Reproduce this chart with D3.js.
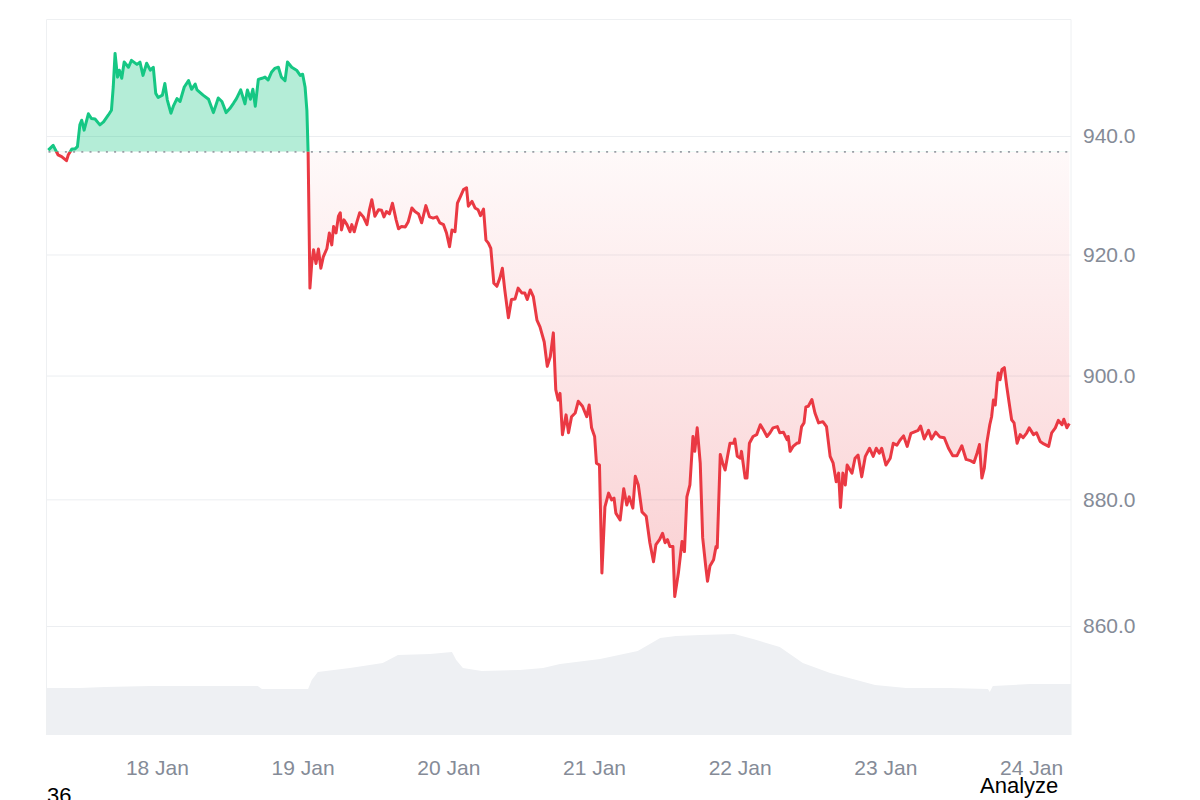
<!DOCTYPE html>
<html>
<head>
<meta charset="utf-8">
<script src="https://cdn.jsdelivr.net/npm/d3@7"></script>
<style>
  body { margin: 0; background: #fff; }
  svg text { font-family: "Liberation Sans", Arial, sans-serif; }
</style>
</head>
<body>
<div id="chart"></div>
<script>
// price readings: [hours since 17 Jan 00:00 UTC, price]
const pricePoints = [
  [6.1,937.6],[6.9,938.4],[7.7,936.8],[8.3,936.5],[9.1,935.8],[9.4,936.8],[10.0,937.8],[10.5,937.8],[10.9,938.2],[11.3,941.9],
  [11.6,942.7],[12.0,941.0],[12.7,943.8],[13.2,943.0],[13.8,942.9],[14.6,941.9],[15.2,942.4],[16.0,943.6],[16.5,944.4],[16.8,948.4],
  [17.1,954.2],[17.5,950.1],[17.8,951.3],[18.2,949.9],[18.6,952.7],[19.3,951.8],[19.8,953.0],[20.7,952.3],[21.2,952.7],[21.7,950.4],
  [22.3,952.5],[22.9,951.3],[23.4,951.8],[23.8,947.3],[24.2,946.6],[24.9,947.0],[25.3,949.0],[25.7,946.2],[26.3,943.9],[26.7,945.1],
  [27.3,946.4],[27.8,945.9],[28.5,948.4],[29.2,949.5],[29.7,948.0],[30.3,948.9],[30.6,947.9],[31.6,947.0],[32.5,946.3],[33.3,944.0],
  [34.1,946.5],[34.7,945.9],[35.4,944.0],[36.0,944.7],[36.6,945.6],[37.1,946.4],[37.8,947.9],[38.5,945.5],[38.9,947.9],[39.4,946.3],
  [39.8,948.0],[40.2,945.1],[40.7,949.7],[41.3,949.9],[41.8,950.1],[42.3,949.6],[42.9,951.0],[43.4,951.6],[44.0,951.8],[44.5,950.1],
  [45.1,949.5],[45.5,952.7],[46.2,951.8],[47.0,951.3],[47.6,950.4],[48.0,950.6],[48.4,948.4],[48.7,944.4],[48.9,937.3],[49.2,914.4],
  [49.5,918.5],[49.8,920.8],[50.2,918.5],[50.6,920.9],[51.0,917.7],[51.4,919.6],[52.0,921.0],[52.4,923.6],[52.8,921.6],[53.1,924.7],
  [53.5,923.6],[53.9,926.4],[54.2,927.0],[54.4,924.1],[54.8,925.8],[55.3,925.0],[55.8,923.8],[56.1,925.0],[56.5,923.8],[56.9,925.3],
  [57.4,927.0],[58.0,926.3],[58.6,925.0],[59.0,927.5],[59.4,929.2],[59.9,926.4],[60.5,927.5],[61.0,927.4],[61.4,926.3],[61.8,927.2],
  [62.3,926.8],[62.8,928.6],[63.4,925.8],[63.8,924.3],[64.3,924.7],[64.9,924.6],[65.4,925.5],[66.0,927.8],[66.5,927.2],[67.1,926.8],
  [67.6,925.3],[68.3,928.2],[68.9,926.3],[69.5,926.1],[70.1,926.3],[70.6,925.3],[71.2,925.0],[71.7,923.6],[72.2,921.3],[72.6,924.1],
  [73.1,923.8],[73.5,928.6],[73.9,929.5],[74.5,930.9],[75.0,931.2],[75.3,928.1],[75.9,928.9],[76.4,927.8],[76.9,927.5],[77.3,926.5],
  [77.8,927.6],[78.2,922.4],[78.6,921.9],[79.0,921.0],[79.5,915.2],[80.0,914.7],[80.5,916.1],[80.9,917.7],[81.3,914.1],[81.9,909.5],
  [82.4,912.5],[83.0,912.6],[83.5,914.4],[84.1,913.6],[84.6,913.6],[85.0,912.5],[85.5,914.1],[86.0,913.0],[86.6,909.1],[87.1,908.0],
  [87.8,905.5],[88.3,901.5],[88.8,903.1],[89.3,907.0],[89.7,897.7],[90.1,896.0],[90.4,897.1],[90.8,890.4],[91.4,893.6],[91.8,890.7],
  [92.3,893.3],[92.9,893.9],[93.4,895.8],[94.1,895.0],[94.8,893.3],[95.2,895.2],[95.6,891.5],[96.1,890.1],[96.4,885.8],[96.9,885.5],
  [97.3,868.3],[97.8,878.8],[98.4,881.0],[98.9,879.9],[99.3,880.2],[99.6,877.8],[100.3,876.7],[100.9,881.7],[101.4,879.1],[101.8,880.4],
  [102.4,878.6],[102.8,883.7],[103.3,882.3],[103.9,878.0],[104.6,877.3],[105.2,873.1],[105.8,870.1],[106.2,872.8],[106.8,873.6],[107.3,874.6],
  [107.7,873.1],[108.1,873.6],[108.5,872.5],[109.0,872.5],[109.3,864.6],[109.9,868.3],[110.5,873.3],[110.9,871.7],[111.3,880.4],[111.8,882.3],
  [112.3,890.1],[112.6,887.7],[113.0,891.5],[113.5,885.8],[113.9,873.9],[114.4,869.4],[114.7,867.0],[115.1,869.4],[115.7,870.4],[116.1,872.5],
  [116.3,872.3],[116.8,887.2],[117.2,885.8],[117.6,884.7],[118.0,886.9],[118.4,889.0],[119.0,889.0],[119.2,889.7],[119.6,886.9],[120.1,886.6],
  [120.3,887.7],[120.9,883.4],[121.2,883.4],[121.6,889.0],[122.2,890.1],[122.8,890.4],[123.4,892.0],[123.9,891.2],[124.5,890.1],[125.0,890.7],
  [125.5,891.5],[126.2,891.7],[126.6,890.7],[127.2,890.8],[127.8,889.6],[128.0,890.1],[128.3,887.7],[128.8,888.5],[129.4,889.0],[129.8,889.1],
  [130.2,891.7],[130.6,892.3],[130.9,894.9],[131.3,895.0],[131.9,896.1],[132.4,893.9],[133.0,892.3],[133.7,892.5],[134.3,891.7],[134.9,886.9],
  [135.4,885.8],[135.9,882.8],[136.3,884.2],[136.6,878.7],[137.0,884.2],[137.4,882.3],[137.7,885.5],[138.5,884.2],[139.0,886.6],[139.5,887.1],
  [140.1,883.6],[140.7,886.9],[141.4,888.2],[142.0,886.9],[142.5,888.2],[143.0,887.4],[143.4,888.2],[144.1,885.5],[144.8,886.6],[145.3,889.0],
  [145.9,888.7],[146.4,889.5],[147.0,890.2],[147.6,888.5],[148.2,890.6],[148.9,890.9],[149.4,891.1],[149.8,891.8],[150.4,889.7],[151.1,891.1],
  [151.6,889.7],[152.3,890.8],[153.0,890.0],[153.7,889.9],[154.4,888.2],[155.1,887.0],[155.8,887.0],[156.6,888.6],[157.3,886.4],[158.0,886.2],
  [158.6,885.9],[159.1,887.4],[159.5,888.8],[159.9,883.4],[160.3,885.0],[160.7,889.0],[161.2,892.0],[161.5,893.3],[161.8,896.0],[162.1,895.2],
  [162.4,898.8],[162.6,900.4],[162.9,899.3],[163.2,901.0],[163.6,901.3],[164.0,898.2],[164.4,895.5],[164.8,892.8],[165.2,892.3],[165.7,889.0],
  [166.2,890.4],[166.7,889.9],[167.3,890.7],[167.7,891.5],[168.4,890.4],[168.9,890.7],[169.5,889.3],[170.1,888.9],[170.9,888.5],[171.4,890.7],
  [172.0,891.5],[172.5,892.7],[173.1,892.0],[173.4,892.9],[173.9,891.5],[174.3,892.2]
];

// volume readings (relative units): [hours, volume]
const volumePoints = [
  [5.85,47],[11.3,47],[15.4,48],[22.9,49],[31.1,49],[40.6,49],[41.3,46],[48.9,46],[49.5,55],[50.5,63],
  [55.8,67],[61.2,72],[63.7,80],[69.0,81],[72.6,83],[73.3,75],[74.4,67],[77.5,64],[83.8,65],[87.6,67],
  [90.4,71],[97.0,76],[103.2,84],[105.2,91],[106.9,97],[109.5,99],[113.5,100],[119.1,101],[122.2,96],[126.6,88],
  [130.4,72],[134.9,62],[138.0,57],[142.3,50],[147.4,47],[154.6,47],[160.9,46],[161.2,43],[161.7,49],[167.8,51],[174.6,51]
];

const baseline = 937.3;
const yTicks = [860, 880, 900, 920, 940];

const baseDay = Date.UTC(2025, 0, 17);
const toDate = h => new Date(baseDay + h * 3600 * 1000);

const W = 1200, H = 800;
const plot = { left: 46.5, right: 1071, top: 19.5, bottom: 735 };

const svg = d3.select("#chart")
  .append("svg")
  .attr("width", W)
  .attr("height", H);

const x = d3.scaleUtc()
  .domain(d3.extent(pricePoints, d => toDate(d[0])))
  .range([48.3, 1069.3]);

const y = d3.scaleLog()
  .domain([860, 940])
  .range([626, 136]);

const yVol = d3.scaleLinear()
  .domain([0, 100])
  .range([plot.bottom, plot.bottom - 100]);

const yBase = y(baseline);

// volume area
svg.append("path")
  .datum(volumePoints)
  .attr("fill", "#eef0f3")
  .attr("d", d3.area()
    .x(d => x(toDate(d[0])))
    .y0(plot.bottom)
    .y1(d => yVol(d[1])));

// y axis + gridlines
const yAxis = svg.append("g")
  .attr("transform", `translate(${plot.right},0)`)
  .call(d3.axisRight(y)
    .tickValues(yTicks)
    .tickFormat(d3.format(".1f"))
    .tickSize(-(plot.right - plot.left))
    .tickPadding(12));
yAxis.select(".domain").remove();
yAxis.selectAll(".tick line").attr("stroke", "#eceef1");
yAxis.selectAll(".tick text")
  .attr("fill", "#858b97")
  .style("font-size", "21px");

// frame
svg.append("path")
  .attr("d", `M${plot.left},${plot.bottom}V${plot.top}H${plot.right}V${plot.bottom}`)
  .attr("fill", "none")
  .attr("stroke", "#eef0f2");

// clip regions above / below the reference price
const defs = svg.append("defs");
defs.append("clipPath").attr("id", "above")
  .append("rect").attr("x", 0).attr("y", 0).attr("width", W).attr("height", yBase);
defs.append("clipPath").attr("id", "below")
  .append("rect").attr("x", 0).attr("y", yBase).attr("width", W).attr("height", H - yBase);

const grad = defs.append("linearGradient")
  .attr("id", "redFill")
  .attr("gradientUnits", "userSpaceOnUse")
  .attr("x1", 0).attr("x2", 0)
  .attr("y1", yBase).attr("y2", y(864));
grad.append("stop").attr("offset", 0).attr("stop-color", "#ea3943").attr("stop-opacity", 0.03);
grad.append("stop").attr("offset", 1).attr("stop-color", "#ea3943").attr("stop-opacity", 0.24);

const area = d3.area()
  .x(d => x(toDate(d[0])))
  .y0(yBase)
  .y1(d => y(d[1]));

const line = d3.line()
  .x(d => x(toDate(d[0])))
  .y(d => y(d[1]));

svg.append("path")
  .datum(pricePoints)
  .attr("clip-path", "url(#above)")
  .attr("fill", "#16c784")
  .attr("fill-opacity", 0.32)
  .attr("d", area);

svg.append("path")
  .datum(pricePoints)
  .attr("clip-path", "url(#below)")
  .attr("fill", "url(#redFill)")
  .attr("d", area);

// dotted reference line
svg.append("line")
  .attr("x1", plot.left + 2)
  .attr("x2", plot.right)
  .attr("y1", yBase)
  .attr("y2", yBase)
  .attr("stroke", "#9a9ea6")
  .attr("stroke-width", 1.6)
  .attr("stroke-dasharray", "2,6.2");

svg.append("path")
  .datum(pricePoints)
  .attr("clip-path", "url(#above)")
  .attr("fill", "none")
  .attr("stroke", "#16c784")
  .attr("stroke-width", 3)
  .attr("stroke-linejoin", "round")
  .attr("d", line);

svg.append("path")
  .datum(pricePoints)
  .attr("clip-path", "url(#below)")
  .attr("fill", "none")
  .attr("stroke", "#ea3943")
  .attr("stroke-width", 3)
  .attr("stroke-linejoin", "round")
  .attr("d", line);

// x axis labels
const xAxis = svg.append("g")
  .attr("transform", `translate(0,${plot.bottom})`)
  .call(d3.axisBottom(x)
    .ticks(d3.utcDay.every(1))
    .tickFormat(d3.utcFormat("%-d %b"))
    .tickSize(0)
    .tickPadding(25));
xAxis.select(".domain").remove();
xAxis.selectAll(".tick text")
  .attr("fill", "#858b97")
  .style("font-size", "21px");

// stray page texts
svg.append("text")
  .attr("x", 47)
  .attr("y", 803)
  .attr("fill", "#000")
  .style("font-size", "22px")
  .text("36");

svg.append("text")
  .attr("x", 980)
  .attr("y", 793)
  .attr("fill", "#000")
  .style("font-size", "22px")
  .text("Analyze");
</script>
</body>
</html>
